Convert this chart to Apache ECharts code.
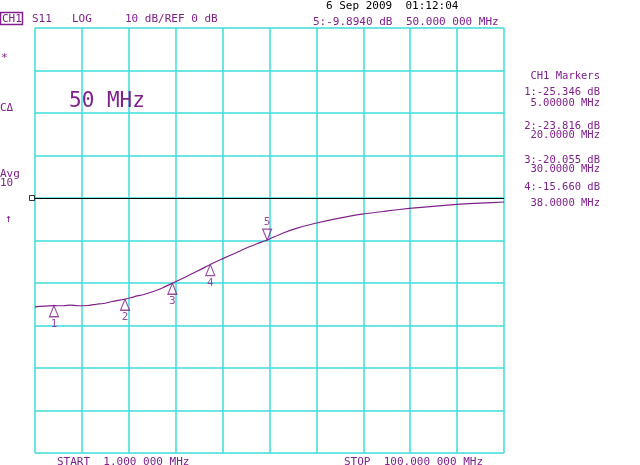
<!DOCTYPE html>
<html><head><meta charset="utf-8">
<script src="https://cdn.jsdelivr.net/npm/echarts@6/dist/echarts.min.js"></script>
<style>html,body{margin:0;padding:0;background:#fff}#c{width:640px;height:465px}</style>
</head><body><div id="c"></div>
<script>
// Trace data (frequency in MHz, S11 in dB)
const freqMHz = [1, 3, 5, 7, 8.5, 10, 12, 14, 16, 18, 20, 22, 24, 26, 28, 30, 32, 34, 36, 38, 40, 42, 44, 46, 48, 50, 53, 56, 60, 65, 70, 75, 80, 85, 90, 95, 100];
const s11dB   = [-25.6, -25.45, -25.346, -25.35, -25.2, -25.35, -25.3, -25.0, -24.7, -24.2, -23.816, -23.2, -22.7, -22.0, -21.1, -20.055, -19.0, -17.9, -16.8, -15.66, -14.6, -13.6, -12.6, -11.6, -10.7, -9.894, -8.4, -7.2, -6.0, -4.8, -3.8, -3.1, -2.45, -1.95, -1.5, -1.2, -0.94];
// Markers
const markerFreq = [5, 20, 30, 38, 50];
const markerDb   = [-25.346, -23.816, -20.055, -15.660, -9.894];
// Axis setup
const startMHz = 1, stopMHz = 100;
const refDb = 0, dbPerDiv = 10, topDb = 40, bottomDb = -60;
const xDivisions = 10;

const PURPLE = '#80208c';
const CYAN = '#3ddcdc';
const FONT = '"DejaVu Sans Mono", monospace';

const activeIdx = markerFreq.length - 1;
const upPts = markerFreq.slice(0, activeIdx).map((f, i) => [f, markerDb[i]]);
const activePt = [[markerFreq[activeIdx], markerDb[activeIdx]]];

function txt(text, x, y, opts) {
  opts = opts || {};
  return {type: 'text', x: x, y: y, silent: true, z: 10,
    style: {text: text, fill: opts.fill || PURPLE, font: (opts.size || 11) + 'px ' + FONT,
      textAlign: opts.align || 'left', textVerticalAlign: 'middle'}};
}

const graphics = [
  {type: 'rect', shape: {x: 0.5, y: 12.5, width: 22, height: 12}, style: {fill: 'none', stroke: PURPLE, lineWidth: 1.5}},
  txt('CH1', 2, 19),
  txt('S11', 32, 19),
  txt('LOG', 72, 19),
  txt(dbPerDiv + ' dB/REF ' + refDb + ' dB', 125, 19),
  txt('6 Sep 2009  01:12:04', 326, 6, {fill: '#000'}),
  txt((activeIdx + 1) + ':' + markerDb[activeIdx].toFixed(4) + ' dB', 313, 22),
  txt('50.000 000 MHz', 406, 22),
  txt('*', 1, 58),
  txt('C\u0394', 0, 108),
  txt('Avg', 0, 174),
  txt('10', 0, 183),
  txt('\u2191', 5, 219),
  txt('50 MHz', 69, 102, {size: 21}),
  txt('CH1 Markers', 600, 76, {align: 'right', size: 10.5}),
  txt('START  1.000 000 MHz', 57, 462),
  txt('STOP  100.000 000 MHz', 483, 462, {align: 'right'})
];
const mY = [[92, 103], [126, 135], [160, 169], [187, 203]];
for (let i = 0; i < activeIdx; i++) {
  graphics.push(txt((i + 1) + ':' + markerDb[i].toFixed(3) + ' dB', 600, mY[i][0], {align: 'right', size: 10.5}));
  graphics.push(txt(markerFreq[i].toPrecision(6) + ' MHz', 600, mY[i][1], {align: 'right', size: 10.5}));
}

const chart = echarts.init(document.getElementById('c'), null, {renderer: 'canvas'});
chart.setOption({
  animation: false,
  backgroundColor: '#fff',
  grid: {left: 35, right: 136, top: 28, bottom: 12, containLabel: false},
  xAxis: [
    {type: 'value', min: startMHz, max: stopMHz, show: false},
    {type: 'value', min: 0, max: xDivisions, interval: 1, position: 'bottom',
      axisLine: {show: false}, axisTick: {show: false}, axisLabel: {show: false},
      splitLine: {show: true, showMinLine: true, showMaxLine: true, lineStyle: {color: CYAN, width: 1.5}}}
  ],
  yAxis: {type: 'value', min: bottomDb, max: topDb, interval: dbPerDiv,
    axisLine: {show: false}, axisTick: {show: false}, axisLabel: {show: false},
    splitLine: {show: true, showMinLine: true, showMaxLine: true, lineStyle: {color: CYAN, width: 1.5}}},
  series: [
    {type: 'line', xAxisIndex: 0, data: freqMHz.map((f, i) => [f, s11dB[i]]),
      showSymbol: false, smooth: 0.2, lineStyle: {color: PURPLE, width: 1.2}, z: 3,
      markLine: {silent: true, symbol: ['none', 'none'], label: {show: false},
        lineStyle: {color: '#000', width: 1, type: 'solid'}, data: [{yAxis: refDb}]}},
    {type: 'scatter', xAxisIndex: 0, data: [[startMHz, refDb]], symbol: 'rect', symbolSize: [5, 5],
      symbolOffset: [-3, 0], itemStyle: {color: '#fff', borderColor: '#000', borderWidth: 1}, z: 4},
    {type: 'scatter', xAxisIndex: 0, data: upPts, symbol: 'path://M5,0 L10,10 L0,10 Z',
      symbolSize: [9, 11], symbolOffset: [0, 5.5], symbolKeepAspect: false,
      itemStyle: {color: 'rgba(255,255,255,0)', borderColor: PURPLE, borderWidth: 1.2}, z: 5,
      label: {show: true, position: 'bottom', distance: 1, color: PURPLE, fontFamily: FONT, fontSize: 11,
        formatter: p => String(p.dataIndex + 1)}},
    {type: 'scatter', xAxisIndex: 0, data: activePt, symbol: 'path://M0,0 L10,0 L5,10 Z',
      symbolSize: [9, 11], symbolOffset: [0, -5.5], symbolKeepAspect: false,
      itemStyle: {color: 'rgba(255,255,255,0)', borderColor: PURPLE, borderWidth: 1.2}, z: 5,
      label: {show: true, position: 'top', distance: 1, color: PURPLE, fontFamily: FONT, fontSize: 11,
        formatter: () => String(activeIdx + 1)}}
  ],
  graphic: graphics
});
</script></body></html>
